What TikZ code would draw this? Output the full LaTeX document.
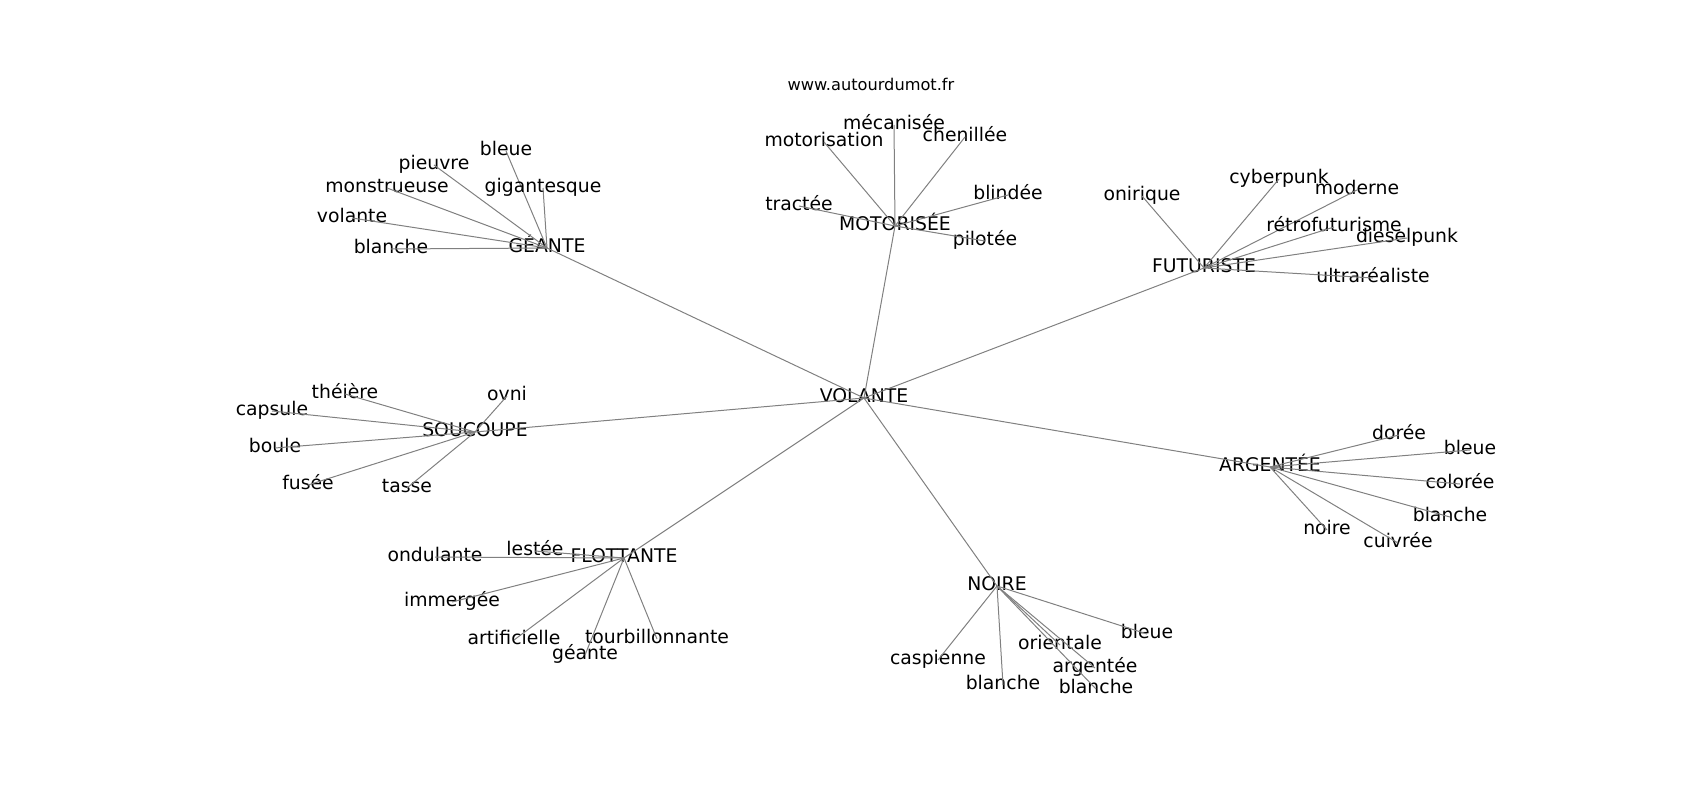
\documentclass[tikz,border=0pt]{standalone}
\usepackage{fontspec}
\setmainfont{DejaVu Sans}
\begin{document}
\begin{tikzpicture}[x=1pt,y=-1pt,
    word/.style={inner sep=0pt,text height=0.95em,text depth=0pt,font=\fontsize{18.8}{22}\selectfont},
    link/.style={gray,line width=1pt}]
  \useasboundingbox (0,0) rectangle (1700,800);
  \node[inner sep=0pt,font=\fontsize{16.2}{19}\selectfont] (site) at (871,84) {www.autourdumot.fr};
  \node[word] (vol) at (864,398) {VOLANTE};
  % hubs
  \foreach \h/\x/\y/\t in {gea/547/248/GÉANTE, mot/895/226/MOTORISÉE, fut/1204/268/FUTURISTE,
      sou/475/432/SOUCOUPE, arg/1270/467/ARGENTÉE, flo/624/558/FLOTTANTE, noi/997/586/NOIRE} {
    \node[word] (\h) at (\x,\y) {\t};
    \draw[link] (vol.center) -- (\h.center);
  }
  % leaves
  \foreach \h/\n/\x/\y/\t in {
      gea/gea1/391/249/blanche, gea/gea2/352/218/volante, gea/gea3/387/188/monstrueuse,
      gea/gea4/434/165/pieuvre, gea/gea5/506/151/bleue, gea/gea6/543/188/gigantesque,
      mot/mot1/894/125/mécanisée, mot/mot2/824/142/motorisation, mot/mot3/965/137/chenillée,
      mot/mot4/1008/195/blindée, mot/mot5/799/206/tractée, mot/mot6/985/241/pilotée,
      fut/fut1/1142/196/onirique, fut/fut2/1279/179/cyberpunk, fut/fut3/1357/190/moderne,
      fut/fut4/1334/227/rétrofuturisme, fut/fut5/1407/238/dieselpunk, fut/fut6/1373/278/ultraréaliste,
      sou/sou1/345/394/théière, sou/sou2/507/396/ovni, sou/sou3/272/411/capsule,
      sou/sou4/275/448/boule, sou/sou5/308/485/fusée, sou/sou6/407/488/tasse,
      arg/arg1/1399/435/dorée, arg/arg2/1470/450/bleue, arg/arg3/1460/484/colorée,
      arg/arg4/1450/517/blanche, arg/arg5/1327/530/noire, arg/arg6/1398/543/cuivrée,
      flo/flo1/435/557/ondulante, flo/flo2/535/551/lestée, flo/flo3/452/602/immergée,
      flo/flo4/514/640/artificielle, flo/flo5/657/639/tourbillonnante, flo/flo6/585/655/géante,
      noi/noi1/1147/634/bleue, noi/noi2/1060/645/orientale, noi/noi3/938/660/caspienne,
      noi/noi4/1095/668/argentée, noi/noi5/1003/685/blanche, noi/noi6/1096/689/blanche} {
    \node[word] (\n) at (\x,\y) {\t};
    \draw[link] (\h.center) -- (\n.center);
  }
\end{tikzpicture}
\end{document}
